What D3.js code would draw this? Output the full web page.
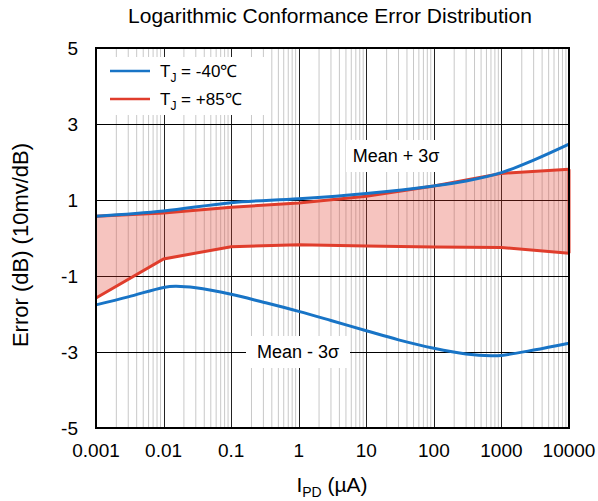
<!DOCTYPE html>
<html><head><meta charset="utf-8">
<script src="https://cdn.jsdelivr.net/npm/d3@7"></script>
<style>body{margin:0;background:#fff;} svg{display:block;font-family:"Liberation Sans",Arial,sans-serif;}</style>
</head><body><svg id="c" width="598" height="501"></svg>
<script>
const xTicks = [0.001, 0.01, 0.1, 1, 10, 100, 1000, 10000];
const xTickLabels = ["0.001", "0.01", "0.1", "1", "10", "100", "1000", "10000"];
const yTicks = [5, 3, 1, -1, -3, -5];
const yTickLabels = ["5", "3", "1", "-1", "-3", "-5"];

// T_J = -40°C, mean +/- 3 sigma (smooth curves)
const blueUpperX = [0.001, 0.01, 0.1, 1, 10, 100, 300, 1000, 3000, 10000];
const blueUpperY = [0.57, 0.71, 0.93, 1.03, 1.17, 1.37, 1.50, 1.72, 2.05, 2.47];
const blueLowerX = [0.001, 0.003, 0.01, 0.015, 0.03, 0.1, 0.3, 1, 3, 10, 30, 100, 300, 700, 1000, 3000, 10000];
const blueLowerY = [-1.76, -1.55, -1.30, -1.27, -1.31, -1.48, -1.69, -1.93, -2.17, -2.44, -2.68, -2.90, -3.05, -3.10, -3.09, -2.95, -2.77];

// T_J = +85°C, mean +/- 3 sigma (piecewise)
const redX = [0.001, 0.01, 0.1, 1, 10, 100, 1000, 10000];
const redUpperY = [0.57, 0.66, 0.81, 0.92, 1.10, 1.37, 1.70, 1.81];
const redLowerY = [-1.58, -0.55, -0.23, -0.18, -0.21, -0.24, -0.25, -0.40];

const BLUE = "#1874c6", RED = "#e03d2c";
const svg = d3.select("#c");
const L = 96, R = 569, T = 48, B = 428;
const x = d3.scaleLog().domain([0.001, 10000]).range([L, R]);
const y = d3.scaleLinear().domain([-5, 5]).range([B, T]);

// minor vertical grid
const minors = [];
for (let e = -3; e < 4; e++) for (let k = 2; k <= 9; k++) minors.push(k * Math.pow(10, e));
svg.append("g").selectAll("line").data(minors).join("line")
  .attr("x1", d => x(d)).attr("x2", d => x(d)).attr("y1", T).attr("y2", B)
  .attr("stroke", "#c8c8c8").attr("stroke-width", 1);
// major vertical grid
svg.append("g").selectAll("line").data(xTicks).join("line")
  .attr("x1", d => Math.round(x(d)) + 0.5).attr("x2", d => Math.round(x(d)) + 0.5).attr("y1", T).attr("y2", B)
  .attr("stroke", "#222").attr("stroke-width", 1);
// horizontal grid
svg.append("g").selectAll("line").data(yTicks).join("line")
  .attr("x1", L).attr("x2", R).attr("y1", d => Math.round(y(d)) + 0.5).attr("y2", d => Math.round(y(d)) + 0.5)
  .attr("stroke", "#000").attr("stroke-width", 1);

// red band
const band = redX.map((v, i) => [v, redUpperY[i]]).concat(redX.map((v, i) => [v, redLowerY[i]]).reverse());
svg.append("path")
  .attr("d", d3.line().x(d => x(d[0])).y(d => y(d[1]))(band) + "Z")
  .attr("fill", RED).attr("fill-opacity", 0.3).attr("stroke", "none");
const lineL = d3.line().x(d => x(d[0])).y(d => y(d[1]));
svg.append("path").attr("d", lineL(redX.map((v, i) => [v, redUpperY[i]])))
  .attr("fill", "none").attr("stroke", RED).attr("stroke-width", 3);
svg.append("path").attr("d", lineL(redX.map((v, i) => [v, redLowerY[i]])))
  .attr("fill", "none").attr("stroke", RED).attr("stroke-width", 3);
svg.append("path").attr("d", lineL([[10000, redUpperY[7]], [10000, redLowerY[7]]]))
  .attr("fill", "none").attr("stroke", RED).attr("stroke-width", 3);

const lineC = d3.line().x(d => x(d[0])).y(d => y(d[1])).curve(d3.curveCatmullRom);
svg.append("path").attr("d", lineC(blueUpperX.map((v, i) => [v, blueUpperY[i]])))
  .attr("fill", "none").attr("stroke", BLUE).attr("stroke-width", 3);
svg.append("path").attr("d", lineC(blueLowerX.map((v, i) => [v, blueLowerY[i]])))
  .attr("fill", "none").attr("stroke", BLUE).attr("stroke-width", 3);

// border
svg.append("rect").attr("x", L).attr("y", T).attr("width", R - L).attr("height", B - T)
  .attr("fill", "none").attr("stroke", "#000").attr("stroke-width", 2);

// legend
const lg = svg.append("g");
lg.append("rect").attr("x", L + 1).attr("y", 57).attr("width", 168).attr("height", 58).attr("fill", "#fff");
const legend = [{c: BLUE, t: "-40℃"}, {c: RED, t: "+85℃"}];
legend.forEach((d, i) => {
  const yy = 71 + i * 28;
  lg.append("line").attr("x1", 110).attr("x2", 150).attr("y1", yy).attr("y2", yy).attr("stroke", d.c).attr("stroke-width", 2.5);
  const t = lg.append("text").attr("x", 160).attr("y", yy + 6).attr("font-size", 17).attr("fill", "#000");
  t.append("tspan").text("T");
  t.append("tspan").attr("font-size", 12).attr("dy", 5).text("J");
  t.append("tspan").attr("dy", -5).text(" = " + d.t);
});

// annotations
function note(cx, cy, w, h, txt) {
  svg.append("rect").attr("x", cx - w / 2).attr("y", cy - h / 2).attr("width", w).attr("height", h).attr("fill", "#fff");
  svg.append("text").attr("x", cx).attr("y", cy + 6).attr("text-anchor", "middle").attr("font-size", 18).text(txt);
}
note(396, 156, 100, 32, "Mean + 3σ");
note(298, 352, 104, 32, "Mean - 3σ");

// axes labels
svg.append("g").selectAll("text").data(xTicks).join("text")
  .attr("x", d => x(d)).attr("y", 457).attr("text-anchor", "middle").attr("font-size", 19)
  .text((d, i) => xTickLabels[i]);
svg.append("g").selectAll("text").data(yTicks).join("text")
  .attr("x", 78).attr("y", d => y(d) + 7).attr("text-anchor", "end").attr("font-size", 19)
  .text((d, i) => yTickLabels[i]);

svg.append("text").attr("x", 330).attr("y", 23).attr("text-anchor", "middle").attr("font-size", 21)
  .text("Logarithmic Conformance Error Distribution");
const xt = svg.append("text").attr("x", 332).attr("y", 492).attr("text-anchor", "middle").attr("font-size", 21);
xt.append("tspan").text("I");
xt.append("tspan").attr("font-size", 14).attr("dy", 5).text("PD");
xt.append("tspan").attr("dy", -5).text(" (µA)");
svg.append("text").attr("transform", "translate(28,245) rotate(-90)").attr("text-anchor", "middle").attr("font-size", 22)
  .text("Error (dB) (10mv/dB)");
</script></body></html>
